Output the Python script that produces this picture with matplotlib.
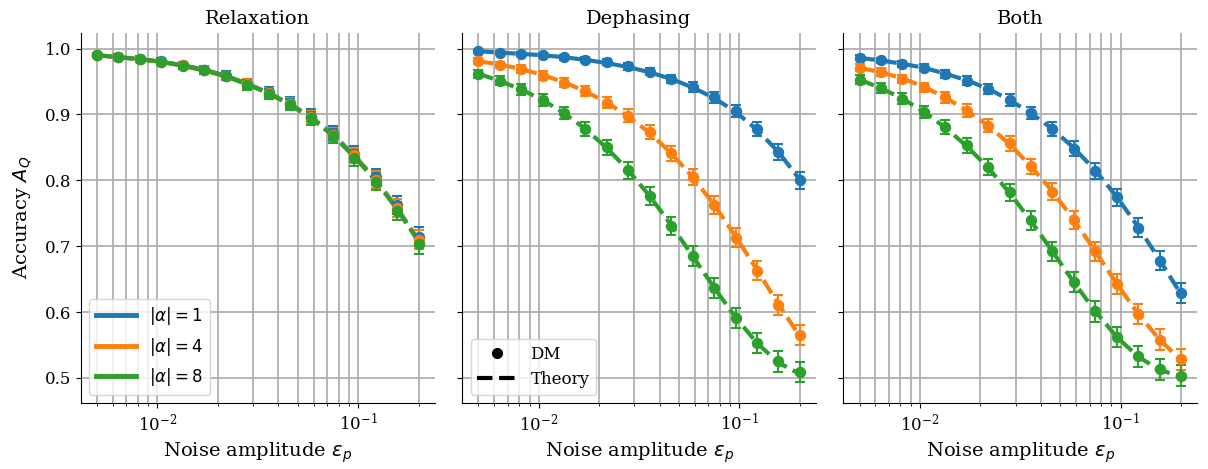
import numpy as np
import matplotlib
matplotlib.use('Agg')
import matplotlib.pyplot as plt
from matplotlib.lines import Line2D

# noise amplitudes (16 log-spaced points, 5e-3 .. 0.2)
eps = [0.005, 0.00639, 0.00818, 0.01046, 0.01337, 0.0171, 0.02187, 0.02797,
       0.03577, 0.04575, 0.05851, 0.07483, 0.0957, 0.1224, 0.1565, 0.2]

titles = ['Relaxation', 'Dephasing', 'Both']
alpha_labels = [r'$|\alpha| = 1$', r'$|\alpha| = 4$', r'$|\alpha| = 8$']
colors = ['tab:blue', 'tab:orange', 'tab:green']

# DM accuracies, per channel, per |alpha|
relax_a1 = [0.990, 0.988, 0.985, 0.981, 0.975, 0.968, 0.959, 0.947, 0.934, 0.918, 0.898, 0.872, 0.840, 0.805, 0.762, 0.714]
relax_a4 = [0.990, 0.987, 0.984, 0.980, 0.975, 0.967, 0.958, 0.946, 0.932, 0.916, 0.896, 0.869, 0.838, 0.801, 0.758, 0.710]
relax_a8 = [0.990, 0.987, 0.984, 0.980, 0.974, 0.967, 0.958, 0.945, 0.931, 0.915, 0.894, 0.867, 0.834, 0.798, 0.754, 0.703]

deph_a1 = [0.996, 0.994, 0.992, 0.990, 0.987, 0.983, 0.979, 0.973, 0.965, 0.954, 0.942, 0.926, 0.905, 0.878, 0.843, 0.800]
deph_a4 = [0.981, 0.975, 0.969, 0.959, 0.948, 0.936, 0.918, 0.898, 0.873, 0.841, 0.805, 0.762, 0.713, 0.663, 0.611, 0.565]
deph_a8 = [0.962, 0.951, 0.938, 0.922, 0.902, 0.878, 0.850, 0.815, 0.776, 0.731, 0.685, 0.636, 0.591, 0.553, 0.525, 0.509]

both_a1 = [0.986, 0.982, 0.977, 0.971, 0.962, 0.951, 0.939, 0.922, 0.902, 0.878, 0.848, 0.814, 0.774, 0.728, 0.678, 0.629]
both_a4 = [0.971, 0.964, 0.954, 0.941, 0.926, 0.906, 0.883, 0.856, 0.821, 0.783, 0.740, 0.692, 0.643, 0.597, 0.558, 0.528]
both_a8 = [0.953, 0.940, 0.924, 0.904, 0.881, 0.853, 0.820, 0.782, 0.739, 0.692, 0.645, 0.601, 0.562, 0.533, 0.513, 0.503]

# theory curves
relax_th1 = [0.990, 0.987, 0.984, 0.980, 0.975, 0.968, 0.959, 0.947, 0.933, 0.916, 0.896, 0.870, 0.838, 0.801, 0.758, 0.709]
relax_th4 = [0.990, 0.987, 0.984, 0.980, 0.974, 0.967, 0.958, 0.946, 0.932, 0.915, 0.895, 0.869, 0.837, 0.800, 0.757, 0.708]
relax_th8 = [0.990, 0.987, 0.984, 0.980, 0.974, 0.967, 0.958, 0.946, 0.932, 0.915, 0.894, 0.868, 0.836, 0.799, 0.756, 0.707]

deph_th1 = [0.996, 0.994, 0.992, 0.990, 0.987, 0.983, 0.978, 0.972, 0.964, 0.954, 0.941, 0.925, 0.904, 0.877, 0.843, 0.801]
deph_th4 = [0.981, 0.976, 0.969, 0.960, 0.949, 0.935, 0.918, 0.897, 0.872, 0.841, 0.805, 0.763, 0.715, 0.664, 0.612, 0.563]
deph_th8 = [0.962, 0.951, 0.938, 0.922, 0.902, 0.878, 0.849, 0.815, 0.776, 0.732, 0.685, 0.637, 0.592, 0.553, 0.523, 0.506]

both_th1 = [0.986, 0.982, 0.977, 0.971, 0.962, 0.952, 0.939, 0.922, 0.902, 0.878, 0.849, 0.815, 0.775, 0.729, 0.679, 0.627]
both_th4 = [0.971, 0.964, 0.955, 0.942, 0.926, 0.906, 0.883, 0.855, 0.821, 0.783, 0.740, 0.692, 0.643, 0.597, 0.558, 0.527]
both_th8 = [0.953, 0.940, 0.924, 0.904, 0.880, 0.852, 0.819, 0.781, 0.738, 0.692, 0.645, 0.601, 0.562, 0.532, 0.512, 0.502]

# error bars (same for the three |alpha| in relaxation)
relax_err = [0.003, 0.0036, 0.004, 0.0044, 0.005, 0.0056, 0.0063, 0.0072, 0.008, 0.0088, 0.0097, 0.0107, 0.0118, 0.0127, 0.0136, 0.0145]
deph_err1 = [0.002, 0.0025, 0.0028, 0.0031, 0.0036, 0.004, 0.0045, 0.0051, 0.0058, 0.0066, 0.0074, 0.0083, 0.0093, 0.0103, 0.0115, 0.0126]
deph_err4 = [0.0043, 0.0049, 0.0055, 0.0063, 0.007, 0.0077, 0.0087, 0.0096, 0.0105, 0.0116, 0.0125, 0.0135, 0.0143, 0.015, 0.0154, 0.0157]
deph_err8 = [0.006, 0.0068, 0.0077, 0.0085, 0.0094, 0.0103, 0.0113, 0.0123, 0.0132, 0.014, 0.0147, 0.0152, 0.0155, 0.0157, 0.0158, 0.0158]
both_err1 = [0.0037, 0.0042, 0.0047, 0.0053, 0.006, 0.0068, 0.0076, 0.0085, 0.0094, 0.0104, 0.0114, 0.0123, 0.0132, 0.0141, 0.0148, 0.0153]
both_err4 = [0.0053, 0.0059, 0.0066, 0.0075, 0.0083, 0.0092, 0.0102, 0.0111, 0.0121, 0.013, 0.0139, 0.0146, 0.0151, 0.0155, 0.0157, 0.0158]
both_err8 = [0.0067, 0.0075, 0.0084, 0.0093, 0.0102, 0.0112, 0.0121, 0.013, 0.0139, 0.0146, 0.0151, 0.0155, 0.0157, 0.0158, 0.0158, 0.0158]

################################################################################

dm = [[relax_a1, relax_a4, relax_a8],
      [deph_a1, deph_a4, deph_a8],
      [both_a1, both_a4, both_a8]]
theory = [[relax_th1, relax_th4, relax_th8],
          [deph_th1, deph_th4, deph_th8],
          [both_th1, both_th4, both_th8]]
errors = [[relax_err, relax_err, relax_err],
          [deph_err1, deph_err4, deph_err8],
          [both_err1, both_err4, both_err8]]

plt.rcParams['font.family'] = 'serif'
plt.rcParams['font.serif'] = ['DejaVu Serif']
plt.rcParams['mathtext.fontset'] = 'dejavusans'
plt.rcParams['font.size'] = 12

fig, axes = plt.subplots(1, 3, figsize=(12.08, 4.69), dpi=100, sharey=True)
fig.subplots_adjust(left=0.067, right=0.991, bottom=0.141, top=0.93,
                    wspace=0.078)

for i, ax in enumerate(axes):
    for j in range(3):
        ax.errorbar(eps, dm[i][j], yerr=errors[i][j], fmt='o', ms=7.2,
                    color=colors[j], capsize=3.5, elinewidth=1.5,
                    capthick=1.5)
        ax.plot(eps, theory[i][j], '--', color=colors[j], lw=3)

    ax.set_xscale('log')
    ax.set_title(titles[i], fontsize=14)
    ax.set_xlabel(r'Noise amplitude $\epsilon_p$', fontsize=14)
    ax.grid(True, which='both', color='#b0b0b0', lw=1.3)
    ax.set_axisbelow(True)
    ax.spines['top'].set_visible(False)
    ax.spines['right'].set_visible(False)
    ax.tick_params(labelsize=12)

axes[0].set_ylim(0.462, 1.024)
axes[0].set_yticks([0.5, 0.6, 0.7, 0.8, 0.9, 1.0])
axes[0].set_ylabel(r'Accuracy $A_Q$', fontsize=14, labelpad=8)

alpha_handles = [Line2D([], [], color=c, lw=3.5) for c in colors]
axes[0].legend(alpha_handles, alpha_labels, loc='lower left', fontsize=12,
               handlelength=2.4)

style_handles = [Line2D([], [], color='black', marker='o', ls='none', ms=7),
                 Line2D([], [], color='black', ls='--', lw=3)]
axes[1].legend(style_handles, ['DM', 'Theory'], loc='lower left',
               fontsize=12, handlelength=2.4)

fig.savefig('out.png', dpi=100)
